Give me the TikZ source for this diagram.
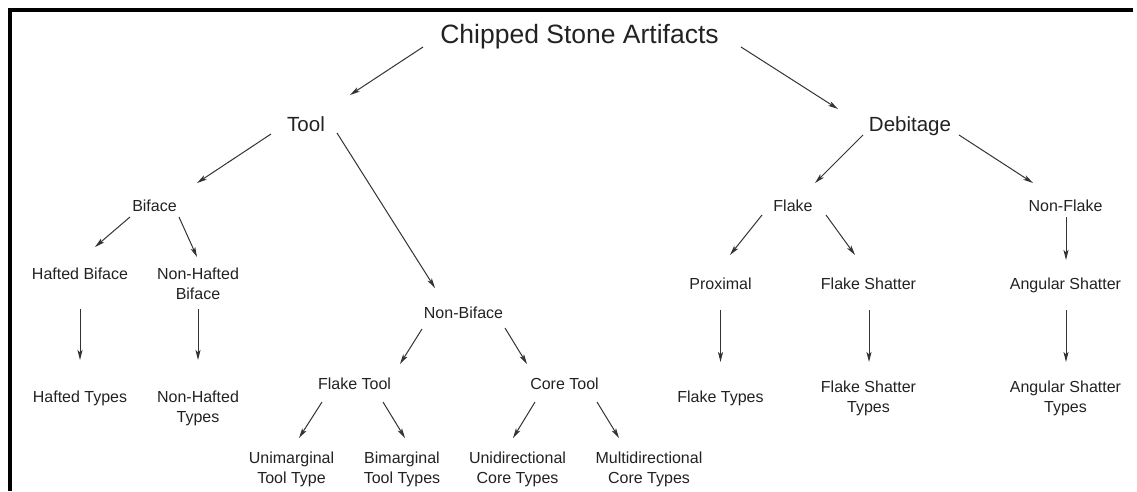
\documentclass[tikz,border=0pt]{standalone}
\usepackage{fontspec}
\setmainfont{Liberation Sans}
\usetikzlibrary{calc,arrows.meta}
\definecolor{ink}{HTML}{222222}
\definecolor{lin}{HTML}{333333}
\tikzset{
  lbl/.style={anchor=base, inner sep=0pt, text=ink, align=center, font=\fontsize{16}{20}\selectfont},
  big/.style={lbl, font=\fontsize{20.5}{24}\selectfont},
  title/.style={lbl, font=\fontsize{26.5}{30}\selectfont},
  arr/.style={draw=lin, line width=1pt, -{Stealth[length=10pt,width=5pt,inset=2.5pt]}}
}
\begin{document}
\begin{tikzpicture}[x=1pt,y=-1pt]
\useasboundingbox (0,0) rectangle (1137,491);
\fill[black] (8,8) rectangle (1133,12);
\fill[black] (8,8) rectangle (12,491);
% nodes (base anchor = baseline of last line)
\node[title] (c) at (579.5,43.5) {Chipped Stone Artifacts};
\node[big] (tool) at (306,131) {Tool};
\node[big] (deb) at (910,131) {Debitage};
\node[lbl] (bif) at (154.5,211) {Biface};
\node[lbl] (nb) at (463.5,318) {Non-Biface};
\node[lbl] (flk) at (793,211) {Flake};
\node[lbl] (nfl) at (1065.5,211) {Non-Flake};
\node[lbl] (hb) at (80,279) {Hafted Biface};
\node[lbl] (nhb) at (198,299) {Non-Hafted\\Biface};
\node[lbl] (ht) at (80,402) {Hafted Types};
\node[lbl] (nht) at (198,422) {Non-Hafted\\Types};
\node[lbl] (ft) at (354.5,389.5) {Flake Tool};
\node[lbl] (ct) at (564.5,389.5) {Core Tool};
\node[lbl] (um) at (291.5,483) {Unimarginal\\Tool Type};
\node[lbl] (bm) at (402,483) {Bimarginal\\Tool Types};
\node[lbl] (ud) at (517.5,483) {Unidirectional\\Core Types};
\node[lbl] (md) at (649,483) {Multidirectional\\Core Types};
\node[lbl] (prox) at (720.5,289) {Proximal};
\node[lbl] (fs) at (868.5,289) {Flake Shatter};
\node[lbl] (as) at (1065.5,289) {Angular Shatter};
\node[lbl] (fty) at (720.5,402) {Flake Types};
\node[lbl] (fst) at (868.5,412) {Flake Shatter\\Types};
\node[lbl] (ast) at (1065.5,412) {Angular Shatter\\Types};
% connectors
\draw[arr] ($(c.base)+(-156.5,3.5)$) -- ($(tool.base)+(44,-36)$);
\draw[arr] ($(c.base)+(161.5,3.5)$) -- ($(deb.base)+(-72,-22)$);
\draw[arr] ($(tool.base)+(-35,3)$) -- ($(bif.base)+(42.5,-28)$);
\draw[arr] ($(tool.base)+(31,2)$) -- ($(nb.base)+(-28.5,-30)$);
\draw[arr] ($(bif.base)+(-24.5,6)$) -- ($(hb.base)+(15,-32)$);
\draw[arr] ($(bif.base)+(24.5,6)$) -- ($(nhb.base)+(-1,-42)$);
\draw[arr] ($(hb.base)+(0,30)$) -- ($(ht.base)+(0,-42)$);
\draw[arr] ($(nhb.base)+(0,10)$) -- ($(nht.base)+(0,-62)$);
\draw[arr] ($(nb.base)+(-41.5,11)$) -- ($(ft.base)+(45.5,-25.5)$);
\draw[arr] ($(nb.base)+(41.5,10)$) -- ($(ct.base)+(-37.5,-25.5)$);
\draw[arr] ($(ft.base)+(-32.5,12.5)$) -- ($(um.base)+(7.5,-45)$);
\draw[arr] ($(ft.base)+(28.5,12.5)$) -- ($(bm.base)+(3,-45)$);
\draw[arr] ($(ct.base)+(-29.5,12.5)$) -- ($(ud.base)+(-4.5,-45)$);
\draw[arr] ($(ct.base)+(32.5,12.5)$) -- ($(md.base)+(-30,-45)$);
\draw[arr] ($(deb.base)+(-47,4)$) -- ($(flk.base)+(22,-28)$);
\draw[arr] ($(deb.base)+(49,4)$) -- ($(nfl.base)+(-32.5,-28)$);
\draw[arr] ($(flk.base)+(-31,4)$) -- ($(prox.base)+(9.5,-34)$);
\draw[arr] ($(flk.base)+(33,4)$) -- ($(fs.base)+(-13.5,-34)$);
\draw[arr] ($(nfl.base)+(0.5,6)$) -- ($(as.base)+(0.5,-29)$);
\draw[arr] ($(prox.base)+(0,21)$) -- ($(fty.base)+(0,-40)$);
\draw[arr] ($(fs.base)+(0.5,21)$) -- ($(fst.base)+(0.5,-50)$);
\draw[arr] ($(as.base)+(0.5,21)$) -- ($(ast.base)+(0.5,-50)$);
\end{tikzpicture}
\end{document}
